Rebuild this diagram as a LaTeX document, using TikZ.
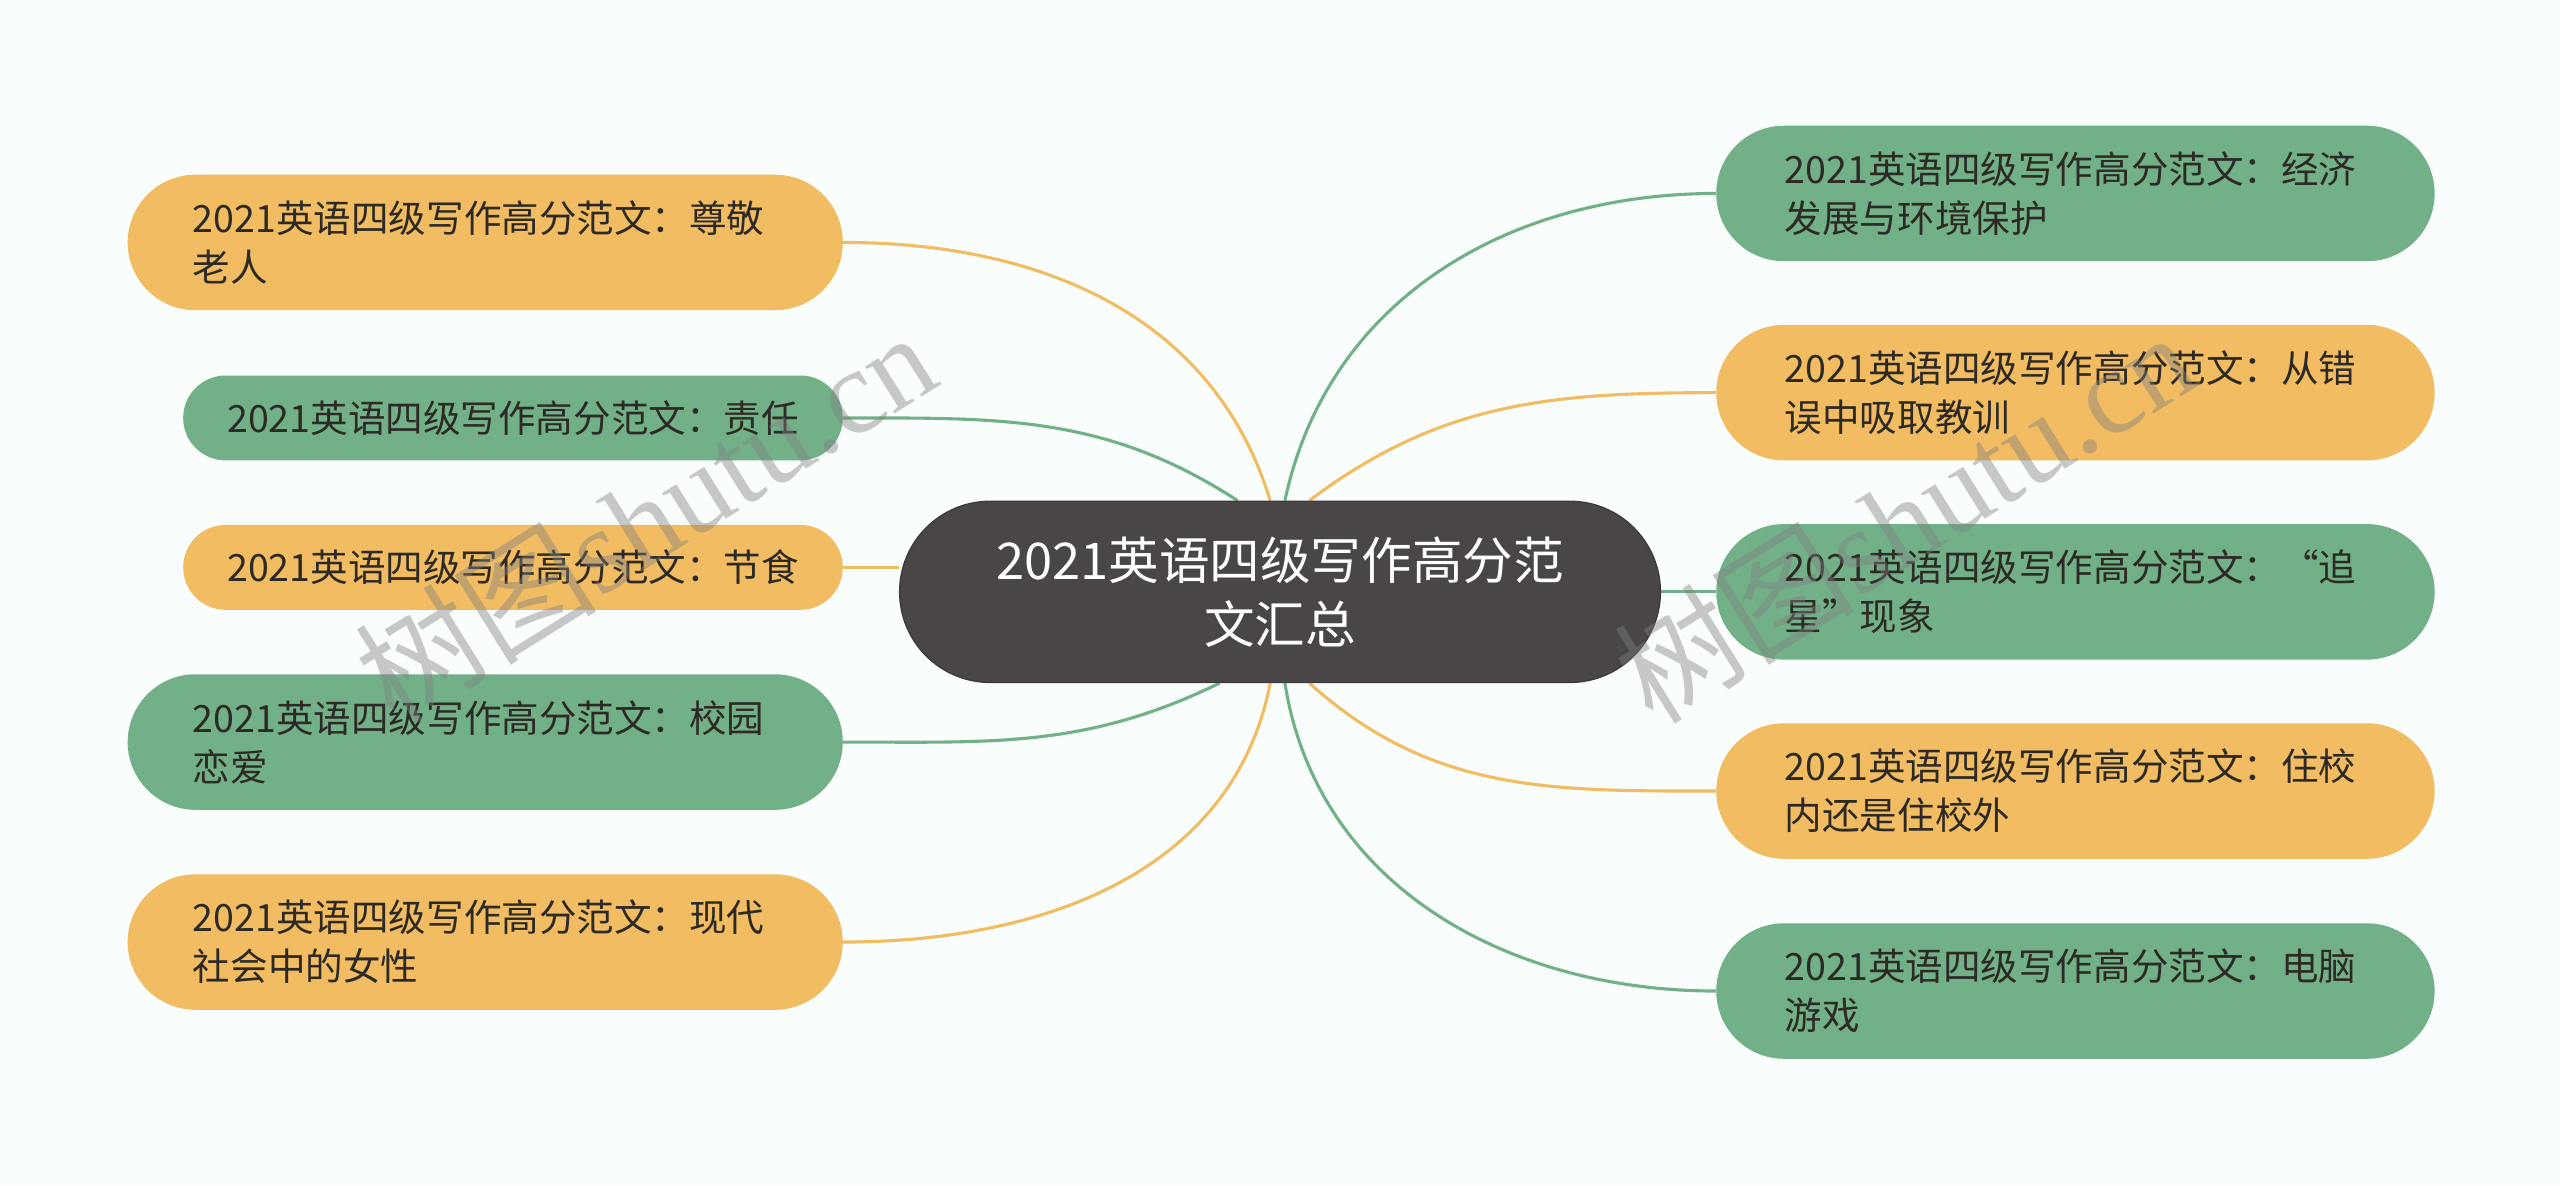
\documentclass[tikz,border=0pt]{standalone}
\usepackage{fontspec}
\setmainfont{Noto Sans CJK SC}
\newfontfamily\wmlat{Liberation Serif}
\usetikzlibrary{calc,backgrounds}
\definecolor{bgc}{HTML}{F9FDFC}
\definecolor{orng}{HTML}{F1BC62}
\definecolor{grn}{HTML}{72B088}
\definecolor{ctr}{HTML}{4A4546}
\definecolor{ctrline}{HTML}{3E393A}
\definecolor{txt}{HTML}{2D2A26}
\begin{document}
\begin{tikzpicture}[x=1pt,y=1pt,
  leafbase/.style={anchor=west, align=left, text=txt, inner ysep=0pt,
    font=\fontsize{23}{30}\selectfont},
  twoleft/.style={leafbase, minimum height=83pt, rounded corners=41.5pt, inner xsep=40pt, text width=358pt},
  oneleft/.style={leafbase, minimum height=52pt, rounded corners=26pt, inner xsep=27pt, text width=350pt},
  tworight/.style={leafbase, minimum height=83pt, rounded corners=41.5pt, inner xsep=42pt, text width=356pt},
  orangebox/.style={fill=orng},
  greenbox/.style={fill=grn},
  centerbox/.style={fill=ctr, draw=ctrline, line width=0.8pt, text=white, align=center,
    minimum width=466pt, minimum height=111pt, rounded corners=55.5pt,
    font=\fontsize{31}{39}\selectfont},
  olink/.style={draw=orng, line width=1.9pt},
  glink/.style={draw=grn, line width=1.9pt},
  wmark/.style={rotate=32, text=gray, text opacity=0.42, font=\fontsize{74}{80}\selectfont}
]
\begin{scope}[on background layer]
  \fill[bgc] (0,0) rectangle (1568,-726);
\end{scope}
\useasboundingbox (0,0) rectangle (1568,-726);

% center
\node[centerbox] (c) at (784,-362.5) {2021英语四级写作高分范\\文汇总};

% left children
\node[twoleft, orangebox] (l1) at (78,-148.5) {2021英语四级写作高分范文：尊敬\\老人};
\node[oneleft, greenbox] (l2) at (112,-256) {2021英语四级写作高分范文：责任};
\node[oneleft, orangebox] (l3) at (112,-347.5) {2021英语四级写作高分范文：节食};
\node[twoleft, greenbox] (l4) at (78,-454.5) {2021英语四级写作高分范文：校园\\恋爱};
\node[twoleft, orangebox] (l5) at (78,-577) {2021英语四级写作高分范文：现代\\社会中的女性};

% right children
\node[tworight, greenbox] (r1) at (1051,-118.5) {2021英语四级写作高分范文：经济\\发展与环境保护};
\node[tworight, orangebox] (r2) at (1051,-240.5) {2021英语四级写作高分范文：从错\\误中吸取教训};
\node[tworight, greenbox] (r3) at (1051,-362.5) {2021英语四级写作高分范文：“追\\星”现象};
\node[tworight, orangebox] (r4) at (1051,-484.5) {2021英语四级写作高分范文：住校\\内还是住校外};
\node[tworight, greenbox] (r5) at (1051,-607) {2021英语四级写作高分范文：电脑\\游戏};

% connector start points on the center node
\coordinate (sl1) at ($(c.north)+(-6,0)$);
\coordinate (sl2) at ($(c.north)+(-26,0)$);
\coordinate (sr1) at ($(c.north)+(3,0)$);
\coordinate (sr2) at ($(c.north)+(18,0)$);
\coordinate (sl4) at ($(c.south)+(-37,0)$);
\coordinate (sl5) at ($(c.south)+(-6,0)$);
\coordinate (sr5) at ($(c.south)+(3,0)$);
\coordinate (sr4) at ($(c.south)+(18,0)$);

\begin{scope}[on background layer]
  \draw[olink] (sl1) to[out=107, in=0] (l1.east);
  \draw[glink] (sl2) to[out=147, in=0] (l2.east);
  \draw[olink] (l3.east) -- (l3.east -| c.west);
  \draw[glink] (sl4) to[out=206, in=0] (l4.east);
  \draw[olink] (sl5) to[out=-101, in=0] (l5.east);
  \draw[glink] (sr1) to[out=78, in=180] (r1.west);
  \draw[olink] (sr2) to[out=37, in=180] (r2.west);
  \draw[glink] (c.east) -- (r3.west);
  \draw[olink] (sr4) to[out=-42, in=180] (r4.west);
  \draw[glink] (sr5) to[out=-81, in=180] (r5.west);
\end{scope}

% watermarks
\node[wmark] (wm1) at (395,-316) {树图{\wmlat shutu.cn}};
\node[wmark] (wm2) at (1166,-316) {树图{\wmlat shutu.cn}};
\end{tikzpicture}
\end{document}
